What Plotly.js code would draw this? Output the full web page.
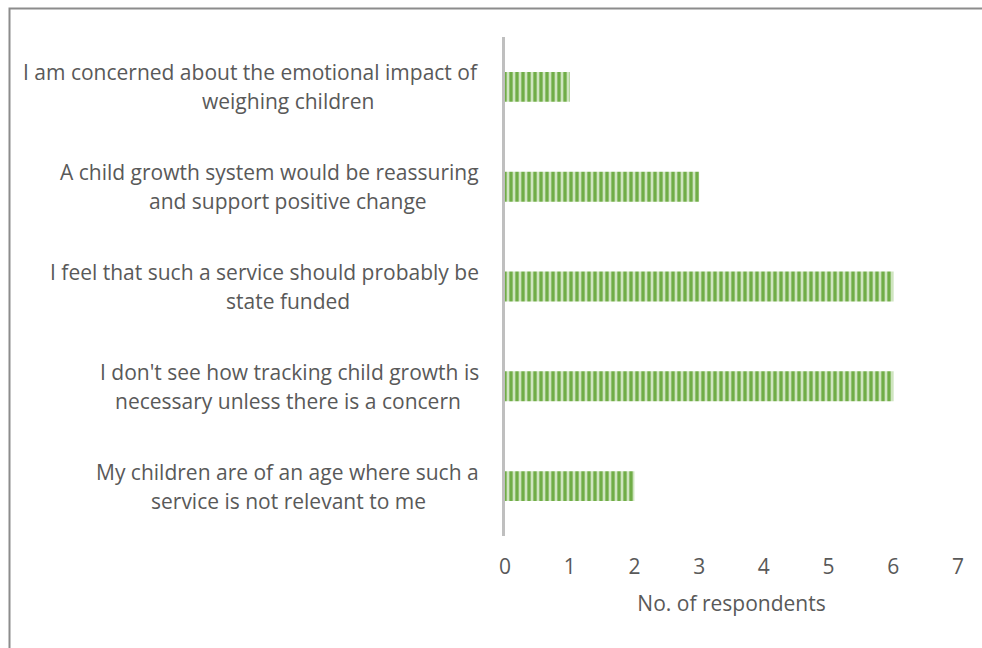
<!DOCTYPE html>
<html>
<head>
<meta charset="utf-8">
<script src="https://cdn.plot.ly/plotly-3.0.1.min.js"></script>
<style>
html,body{margin:0;padding:0;background:#fff;}
#chart{width:982px;height:648px;}
</style>
</head>
<body>
<div id="chart"></div>
<script>
// Data (top to bottom as shown)
const categories = [
  "I am concerned about the emotional impact of weighing children",
  "A child growth system would be reassuring and support positive change",
  "I feel that such a service should probably be state funded",
  "I don't see how tracking child growth is necessary unless there is a concern",
  "My children are of an age where such a service is not relevant to me"
];
const labelLine1 = [
  "I am concerned about the emotional impact of",
  "A child growth system would be reassuring",
  "I feel that such a service should probably be",
  "I don't see how tracking child growth is",
  "My children are of an age where such a"
];
const labelLine2 = [
  "weighing children",
  "and support positive change",
  "state funded",
  "necessary unless there is a concern",
  "service is not relevant to me"
];
const respondents = [1, 3, 6, 6, 2];
const xTicks = [0, 1, 2, 3, 4, 5, 6, 7];
const xTitle = "No. of respondents";

const W = 982, H = 648;
const mL = 505, mR = 24, mT = 37, mB = 112;
const plotW = W - mL - mR, plotH = H - mT - mB;
const px2paperX = p => (p - mL) / plotW;
const px2paperY = p => (H - mB - p) / plotH;

const font = "Open Sans, sans-serif";
const textColor = "#595959";
const fs = 21;

const trace = {
  type: "bar",
  orientation: "h",
  x: respondents,
  y: categories,
  width: 0.3,
  marker: {
    color: "#70AD47",
    line: {width: 0},
    pattern: {shape: "|", fgcolor: "#CFE5C0", bgcolor: "#70AD47", size: 6, solidity: 0.45}
  },
  hoverinfo: "x+y"
};

const annotations = [];
categories.forEach((c, i) => {
  annotations.push({
    xref: "paper", yref: "y", x: px2paperX(481), y: c,
    yshift: 14.5, xanchor: "right", yanchor: "middle",
    text: labelLine1[i], showarrow: false,
    font: {family: font, size: fs, color: textColor}
  });
  annotations.push({
    xref: "paper", yref: "y", x: px2paperX(288), y: c,
    yshift: -14.5, xanchor: "center", yanchor: "middle",
    text: labelLine2[i], showarrow: false,
    font: {family: font, size: fs, color: textColor}
  });
});

const layout = {
  width: W, height: H,
  margin: {l: mL, r: mR, t: mT, b: mB, pad: 0},
  paper_bgcolor: "#fff", plot_bgcolor: "#fff",
  showlegend: false,
  xaxis: {
    range: [0, 7],
    tickvals: xTicks,
    ticktext: xTicks.map(String),
    showgrid: false, zeroline: false, showline: false,
    ticks: "",
    ticklabelstandoff: 16,
    tickfont: {family: font, size: fs, color: textColor},
    title: {text: xTitle, font: {family: font, size: fs, color: textColor}, standoff: 17}
  },
  yaxis: {
    type: "category",
    categoryorder: "array",
    categoryarray: categories,
    autorange: false,
    range: [4.5, -0.5],
    showticklabels: false,
    showgrid: false, zeroline: false,
    showline: true, linecolor: "#BFBFBF", linewidth: 3,
    ticks: ""
  },
  annotations: annotations,
  shapes: [{
    type: "rect", xref: "paper", yref: "paper",
    x0: px2paperX(9.5), x1: px2paperX(1100),
    y0: px2paperY(720), y1: px2paperY(8.5),
    line: {color: "#8C8C8C", width: 2}, fillcolor: "rgba(0,0,0,0)", layer: "below"
  }]
};

Plotly.newPlot("chart", [trace], layout, {displayModeBar: false, staticPlot: true});
</script>
</body>
</html>
